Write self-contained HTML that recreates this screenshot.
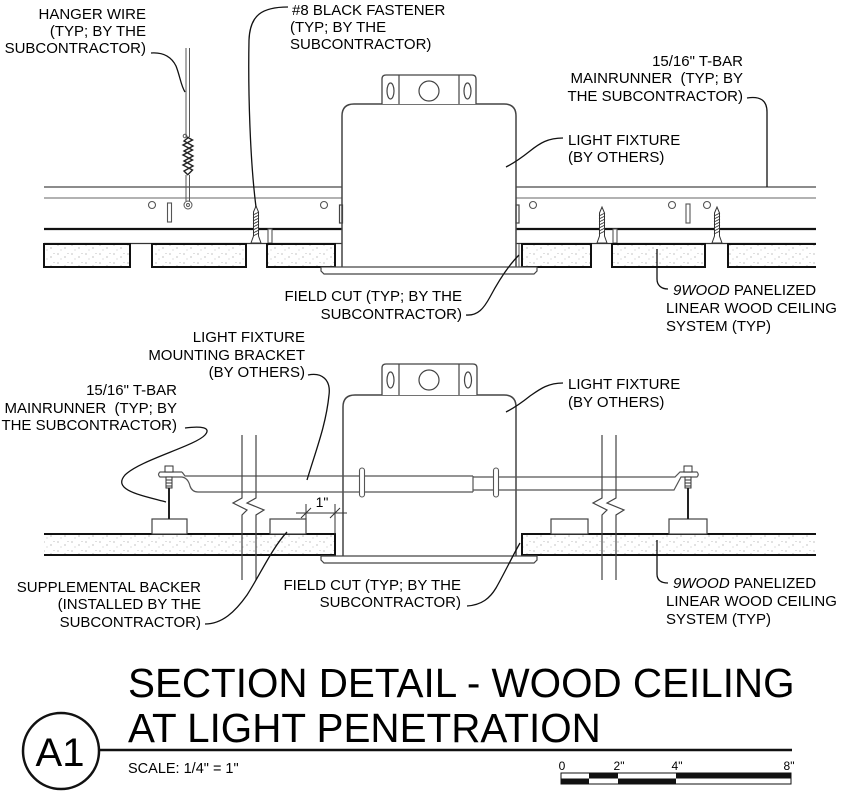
<!DOCTYPE html>
<html><head><meta charset="utf-8"><style>
html,body{margin:0;padding:0;background:#fff;}
svg{display:block;}
text{font-family:"Liberation Sans",Arial,sans-serif;fill:#000;}
</style></head><body>
<svg width="851" height="792" viewBox="0 0 851 792" xmlns="http://www.w3.org/2000/svg">
<defs>
<pattern id="st" width="14" height="9" patternUnits="userSpaceOnUse">
<rect width="14" height="9" fill="#fff"/>
<circle cx="2" cy="2" r="0.6" fill="#999"/><circle cx="9" cy="5" r="0.6" fill="#999"/>
<circle cx="5" cy="7" r="0.5" fill="#aaa"/><circle cx="12" cy="1.5" r="0.5" fill="#aaa"/>
</pattern>
</defs>
<rect width="851" height="792" fill="#fff"/>

<!-- ================= TOP SECTION ================= -->
<g stroke="#666" stroke-width="1.4" fill="none">
<path d="M44,187H342M516,187H816"/>
<path d="M44,198H342M516,198H816" stroke-width="1.1"/>
</g>
<path d="M44,229H342M516,229H816" stroke="#111" stroke-width="2.2"/>
<path d="M44,243.5H342M516,243.5H816" stroke="#333" stroke-width="1.2"/>
<g stroke="#555" stroke-width="1.1" fill="#fff">
<circle cx="152" cy="205" r="3.5"/>
<rect x="167.5" y="203" width="4" height="19"/>
<circle cx="324" cy="205" r="3.5"/>
<circle cx="533" cy="205" r="3.5"/>
<circle cx="672" cy="205" r="3.5"/>
<rect x="686" y="204" width="4" height="19"/>
<circle cx="707" cy="205" r="3.5"/>
<rect x="268" y="229" width="4" height="14"/>
<rect x="613" y="229" width="4" height="14"/>
</g>
<g stroke="#111" stroke-width="2" fill="url(#st)">
<rect x="44" y="244" width="86" height="23"/>
<rect x="152" y="244" width="94" height="23"/>
<rect x="267" y="244" width="68" height="23"/>
<rect x="522" y="244" width="69" height="23"/>
<rect x="612" y="244" width="93" height="23"/>
</g>
<rect x="728" y="244" width="88" height="23" fill="url(#st)"/>
<path d="M816,244H728V267H816" stroke="#111" stroke-width="2" fill="none"/>
<path d="M519,244V267" stroke="#555" stroke-width="1"/>

<path d="M342,267V116Q342,104 354,104H504Q516,104 516,116V267" stroke="#444" stroke-width="1.5" fill="#fff"/>
<path d="M382,104V79Q382,75 386,75H472Q476,75 476,79V104" stroke="#444" stroke-width="1.3" fill="#fff"/>
<path d="M399,75V104M459,75V104" stroke="#444" stroke-width="1.2"/>
<g stroke="#444" stroke-width="1.2" fill="none">
<ellipse cx="390.5" cy="91" rx="3.5" ry="8"/>
<ellipse cx="467.5" cy="91" rx="3.5" ry="8"/>
<circle cx="429" cy="91" r="10"/>
<rect x="339.5" y="205" width="3" height="18"/>
<rect x="516" y="205" width="3" height="18"/>
</g>
<polygon points="321,267 537,267 537,271 534,274 324,274 321,271" stroke="#444" stroke-width="1.2" fill="#fff"/>

<!-- hanger wire -->
<g stroke="#555" stroke-width="1" fill="none">
<path d="M186,48V137M189.5,48V137"/>
<path d="M186,175V201M189.5,175V201"/>
<circle cx="185" cy="136" r="1.8"/>
<circle cx="188" cy="205" r="4"/>
<circle cx="188" cy="205" r="1.5"/>
</g>
<g stroke="#222" stroke-width="1.4" fill="none">
<path d="M187,137L192.5,140L183,145L192.5,150L183,155L192.5,160L183,165L192.5,170L187.5,175"/>
<path d="M189,137L184,141L193,146L184,151L193,156L184,161L193,166L184,171L188,175"/>
</g>

<!-- screws -->
<g stroke="#333" stroke-width="1" fill="#fff">
<path d="M253.5,212L256,206L258.5,212V236L261,243H251L253.5,236Z"/>
<path d="M599.5,213L602,207L604.5,213V236L607,243H597L599.5,236Z"/>
<path d="M714.5,213L717,207L719.5,213V236L722,243H712L714.5,236Z"/>
</g>
<g stroke="#333" stroke-width="0.9">
<path d="M253,215L259,212M253,218L259,215M253,221L259,218M253,224L259,221M253,227L259,224M253,230L259,227M253,233L259,230M253,236L259,233"/>
<path d="M599,216L605,213M599,219L605,216M599,222L605,219M599,225L605,222M599,228L605,225M599,231L605,228M599,234L605,231"/>
<path d="M714,216L720,213M714,219L720,216M714,222L720,219M714,225L720,222M714,228L720,225M714,231L720,228M714,234L720,231"/>
</g>

<g stroke="#111" stroke-width="1.3" fill="none">
<path d="M151,53C165,52 172,58 176,66C180,76 181,86 185,92"/>
<path d="M288,7C262,7 250,15 249,40C248,90 250,160 256,207"/>
<path d="M747,98C760,96 767,100 767,112L767,187"/>
<path d="M563,138C548,138 540,143 530,151C520,159 512,164 506,167"/>
<path d="M466,315C478,316 484,308 490,297C498,282 508,266 519,255"/>
<path d="M657,249L657,279C657,285 661,289 668,289"/>
</g>

<g font-size="15">
<text x="146" y="19" text-anchor="end">HANGER WIRE</text>
<text x="146" y="36" text-anchor="end">(TYP; BY THE</text>
<text x="146" y="53" text-anchor="end">SUBCONTRACTOR)</text>
<text x="292" y="15">#8 BLACK FASTENER</text>
<text x="290" y="32">(TYP; BY THE</text>
<text x="290" y="49">SUBCONTRACTOR)</text>
<text x="743" y="66" text-anchor="end">15/16" T-BAR</text>
<text x="743" y="83" text-anchor="end">MAINRUNNER&#160; (TYP; BY</text>
<text x="743" y="101" text-anchor="end">THE SUBCONTRACTOR)</text>
<text x="568" y="145">LIGHT FIXTURE</text>
<text x="568" y="162">(BY OTHERS)</text>
<text x="462" y="301" text-anchor="end">FIELD CUT (TYP; BY THE</text>
<text x="462" y="319" text-anchor="end">SUBCONTRACTOR)</text>
<text x="673" y="295"><tspan font-style="italic">9WOOD</tspan> PANELIZED</text>
<text x="666" y="313">LINEAR WOOD CEILING</text>
<text x="666" y="331">SYSTEM (TYP)</text>
</g>

<!-- ================= BOTTOM SECTION ================= -->
<rect x="44" y="534" width="291" height="21" fill="url(#st)"/>
<path d="M44,534H335V555H44" stroke="#111" stroke-width="2" fill="none"/>
<rect x="522" y="534" width="294" height="21" fill="url(#st)"/>
<path d="M816,534H522V555H816" stroke="#111" stroke-width="2" fill="none"/>

<path d="M343,556V407Q343,395 355,395H504Q516,395 516,407V556" stroke="#444" stroke-width="1.5" fill="#fff"/>
<path d="M382,395V368Q382,364 386,364H473Q477,364 477,368V395" stroke="#444" stroke-width="1.3" fill="#fff"/>
<path d="M399,364V395M459,364V395" stroke="#444" stroke-width="1.2"/>
<g stroke="#444" stroke-width="1.2" fill="none">
<ellipse cx="390.5" cy="380" rx="3.5" ry="8"/>
<ellipse cx="468" cy="380" rx="3.5" ry="8"/>
<circle cx="429" cy="380" r="10"/>
</g>
<polygon points="321,556 537,556 537,560 534,563 324,563 321,560" stroke="#444" stroke-width="1.2" fill="#fff"/>

<g stroke="#444" stroke-width="1.2" fill="#fff">
<rect x="152" y="519" width="35" height="15"/>
<rect x="270" y="519" width="36" height="15"/>
<rect x="551" y="519" width="37" height="15"/>
<rect x="669" y="519" width="38" height="15"/>
</g>

<g stroke="#555" stroke-width="1.2" fill="none">
<path d="M182,472L185,476H473"/>
<path d="M182,472H160Q157,474.5 160,477H182Q188,478 190,486Q192,492 198,492H473"/>
<path d="M473,476V492"/>
<path d="M473,477H675L680,472H697Q699.5,474.5 697,477H681L674,490H473"/>
</g>
<g stroke="#555" stroke-width="1.1" fill="#fff">
<rect x="359.5" y="468" width="5" height="29" rx="2.5"/>
<rect x="493.5" y="468" width="5" height="29" rx="2.5"/>
</g>

<g stroke="#333" stroke-width="1" fill="#fff">
<rect x="165" y="466" width="8" height="6"/>
<rect x="166" y="477" width="6" height="11"/>
<rect x="684" y="466" width="8" height="6"/>
<rect x="685" y="477" width="6" height="11"/>
</g>
<g stroke="#333" stroke-width="0.9">
<path d="M166,480H172M166,483H172M166,486H172M685,480H691M685,483H691M685,486H691"/>
</g>
<path d="M169,488V519M688,488V519" stroke="#222" stroke-width="2"/>

<g stroke="#444" stroke-width="1.2" fill="none">
<path d="M242,435V498L233,503L247,510L242,515V580"/>
<path d="M256,435V498L247,503L264,510L256,515V580"/>
<path d="M602,435V498L593,503L607,510L602,515V580"/>
<path d="M616,435V498L607,503L624,510L616,515V580"/>
</g>

<g stroke="#333" stroke-width="1" fill="none">
<path d="M296,513H347"/>
<path d="M301,518L311,508M330,518L340,508"/>
<path d="M306,504V519M335,504V534"/>
</g>
<text x="322" y="507" font-size="14" text-anchor="middle">1"</text>

<g stroke="#111" stroke-width="1.3" fill="none">
<path d="M308,375C322,372 331,380 329,395C326,425 316,450 307,480"/>
<path d="M185,428C200,426 212,427 205,435C195,446 140,460 125,475C112,490 140,495 166,502"/>
<path d="M205,624C222,624 235,612 247,595C260,575 272,548 287,532"/>
<path d="M467,606C482,605 490,598 496,588C504,574 512,557 520,543"/>
<path d="M563,383C548,383 540,389 530,396C520,404 512,409 506,412"/>
<path d="M657,540L657,574C657,580 661,583 668,583"/>
</g>

<g font-size="15">
<text x="305" y="342" text-anchor="end">LIGHT FIXTURE</text>
<text x="305" y="360" text-anchor="end">MOUNTING BRACKET</text>
<text x="305" y="377" text-anchor="end">(BY OTHERS)</text>
<text x="177" y="395" text-anchor="end">15/16" T-BAR</text>
<text x="177" y="413" text-anchor="end">MAINRUNNER&#160; (TYP; BY</text>
<text x="177" y="430" text-anchor="end">THE SUBCONTRACTOR)</text>
<text x="201" y="592" text-anchor="end">SUPPLEMENTAL BACKER</text>
<text x="201" y="609" text-anchor="end">(INSTALLED BY THE</text>
<text x="201" y="627" text-anchor="end">SUBCONTRACTOR)</text>
<text x="461" y="590" text-anchor="end">FIELD CUT (TYP; BY THE</text>
<text x="461" y="607" text-anchor="end">SUBCONTRACTOR)</text>
<text x="568" y="389">LIGHT FIXTURE</text>
<text x="568" y="407">(BY OTHERS)</text>
<text x="673" y="588"><tspan font-style="italic">9WOOD</tspan> PANELIZED</text>
<text x="666" y="606">LINEAR WOOD CEILING</text>
<text x="666" y="624">SYSTEM (TYP)</text>
</g>

<!-- ================= TITLE ================= -->
<text x="128" y="697" font-size="40.4">SECTION DETAIL - WOOD CEILING</text>
<text x="128" y="742" font-size="40.4">AT LIGHT PENETRATION</text>
<path d="M99,750H792" stroke="#111" stroke-width="2.5"/>
<circle cx="61" cy="751" r="38" stroke="#111" stroke-width="2.5" fill="#fff"/>
<text x="60" y="766" font-size="40" text-anchor="middle">A1</text>
<text x="128" y="773" font-size="14.5">SCALE: 1/4" = 1"</text>

<g font-size="12" text-anchor="middle">
<text x="562" y="770">0</text>
<text x="619" y="770">2"</text>
<text x="677" y="770">4"</text>
<text x="789" y="770">8"</text>
</g>
<g stroke="none" fill="#111">
<rect x="589" y="773" width="29" height="5.5"/>
<rect x="676" y="773" width="115" height="5.5"/>
<rect x="561" y="778.5" width="28" height="5.5"/>
<rect x="618" y="778.5" width="58" height="5.5"/>
</g>
<rect x="561" y="773" width="230" height="11" stroke="#111" stroke-width="1" fill="none"/>
</svg>
</body></html>
